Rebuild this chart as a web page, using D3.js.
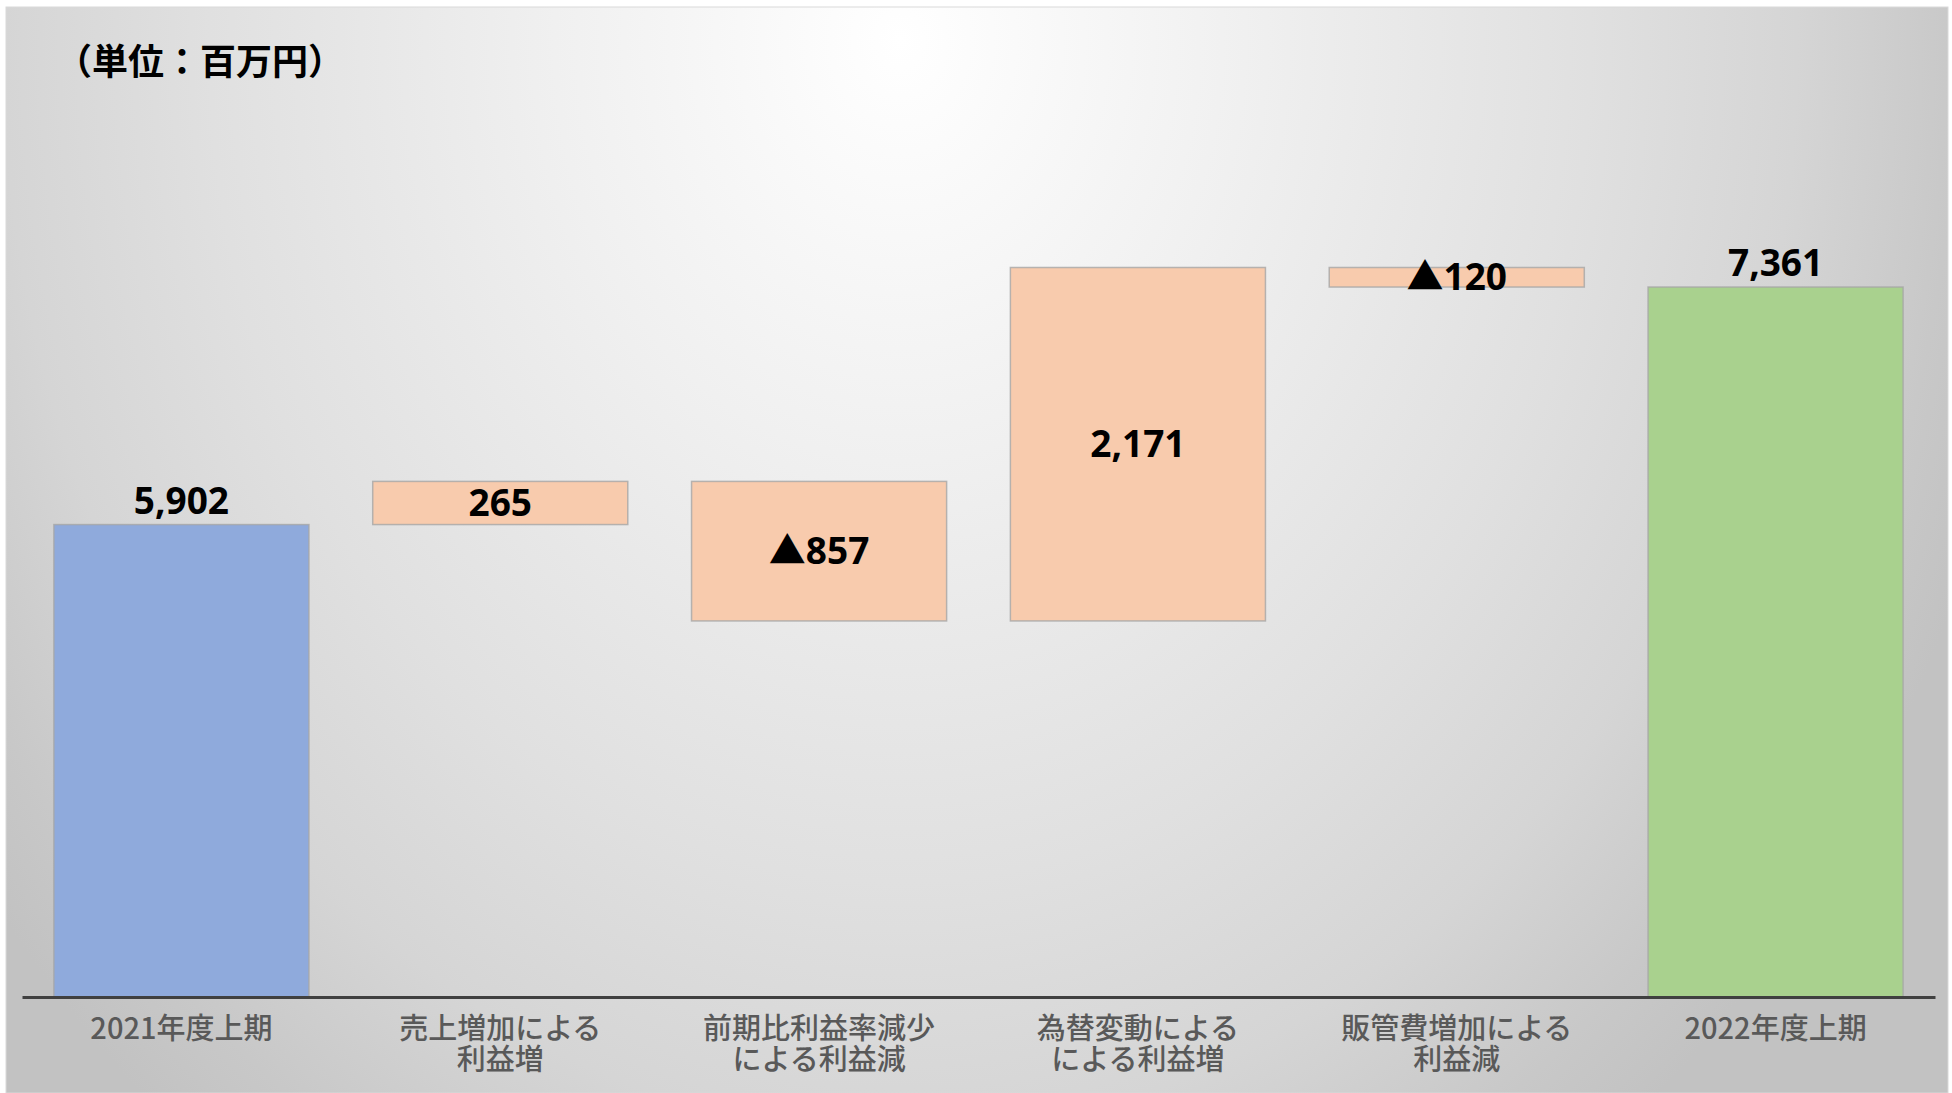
<!DOCTYPE html>
<html>
<head>
<meta charset="utf-8">
<script src="https://cdn.jsdelivr.net/npm/d3@7/dist/d3.min.js"></script>
<style>
  html, body { margin: 0; padding: 0; background: #ffffff; }
  svg { display: block; }
</style>
</head>
<body>
<svg id="chart" width="1952" height="1093"></svg>
<script>
// ---- data ----
const categories = [
  "2021年度上期",
  "売上増加による\n利益増",
  "前期比利益率減少\nによる利益減",
  "為替変動による\nによる利益増",
  "販管費増加による\n利益減",
  "2022年度上期"
];
const values = [5902, 265, -857, 2171, -120, 7361];
const kinds = ["total", "delta", "delta", "delta", "delta", "total"];
const unitLabel = "（単位：百万円）";
const yDomain = [3000, 8000];

// ---- compute waterfall ----
const fills = { start: "#8faadc", delta: "#f8cbad", end: "#a9d18e" };
let running = 0;
const bars = categories.map((c, i) => {
  let lo, hi, kind;
  if (kinds[i] === "total") {
    lo = yDomain[0]; hi = values[i]; running = values[i];
    kind = i === 0 ? "start" : "end";
  } else {
    const prev = running; running = prev + values[i];
    lo = Math.min(prev, running); hi = Math.max(prev, running);
    kind = "delta";
  }
  return { cat: c, value: values[i], lo, hi, kind, type: kinds[i] };
});

const svg = d3.select("#chart");
const defs = svg.append("defs");
const grad = defs.append("radialGradient")
  .attr("id", "bg").attr("gradientUnits", "userSpaceOnUse")
  .attr("cx", 900).attr("cy", 40).attr("r", 1150)
  .attr("gradientTransform", "translate(900,40) scale(1,1.22) translate(-900,-40)");
[[0, "#ffffff"], [0.3, "#f0f0f0"], [0.6, "#e0e0e0"], [0.78, "#d5d5d5"], [0.92, "#c8c8c8"], [1, "#c2c2c2"]]
  .forEach(([o, c]) => grad.append("stop").attr("offset", o).attr("stop-color", c));

svg.append("rect").attr("x", 6).attr("y", 7).attr("width", 1942).attr("height", 1086)
  .attr("fill", "url(#bg)").attr("stroke", "#d9d9d9").attr("stroke-width", 1);

const x = d3.scaleBand().domain(categories).range([22, 1935])
  .paddingInner(0.2).paddingOuter(0.1);
const y = d3.scaleLinear().domain(yDomain).range([997, 183]);

// bars
svg.append("g").selectAll("rect").data(bars).join("rect")
  .attr("x", d => x(d.cat))
  .attr("width", x.bandwidth())
  .attr("y", d => y(d.hi))
  .attr("height", d => y(d.lo) - y(d.hi))
  .attr("fill", d => fills[d.kind])
  .attr("stroke", "#a6a6a6")
  .attr("stroke-opacity", 0.8)
  .attr("stroke-width", 1.5);

// axis
const axis = svg.append("g").attr("transform", `translate(0,${y(yDomain[0])})`)
  .call(d3.axisBottom(x).tickSize(0).tickSizeOuter(0));
axis.select(".domain").attr("stroke", "#404040").attr("stroke-width", 3);
axis.selectAll(".tick text").each(function(d) {
  const t = d3.select(this);
  t.text(null).attr("y", 0).attr("dy", null)
    .attr("font-family", "'Noto Sans CJK JP', sans-serif")
    .attr("font-size", 29).attr("font-weight", 500)
    .attr("fill", "#595959").attr("text-anchor", "middle");
  d.split("\n").forEach((line, i) => {
    t.append("tspan").attr("x", 0).attr("y", 42 + i * 30.5).text(line);
  });
});

// value labels
const fmt = d3.format(",");
const lbl = svg.append("g").selectAll("text").data(bars).join("text")
  .attr("x", d => x(d.cat) + x.bandwidth() / 2)
  .attr("y", d => d.type === "total" ? y(d.hi) - 11 : (y(d.hi) + y(d.lo)) / 2 + 13)
  .attr("text-anchor", "middle")
  .attr("font-family", "'Open Sans', sans-serif")
  .attr("font-weight", 700)
  .attr("font-size", 37)
  .attr("fill", "#000");
lbl.each(function(d) {
  const t = d3.select(this);
  if (d.value < 0) {
    t.append("tspan").attr("font-family", "'Noto Sans CJK JP', sans-serif").text("▲");
    t.append("tspan").text(fmt(Math.abs(d.value)));
  } else {
    t.text(fmt(d.value));
  }
});

// unit label
svg.append("text").attr("x", 56).attr("y", 75)
  .attr("font-family", "'Noto Sans CJK JP', sans-serif")
  .attr("font-weight", 700).attr("font-size", 36).attr("fill", "#000")
  .text(unitLabel);
</script>
</body>
</html>
